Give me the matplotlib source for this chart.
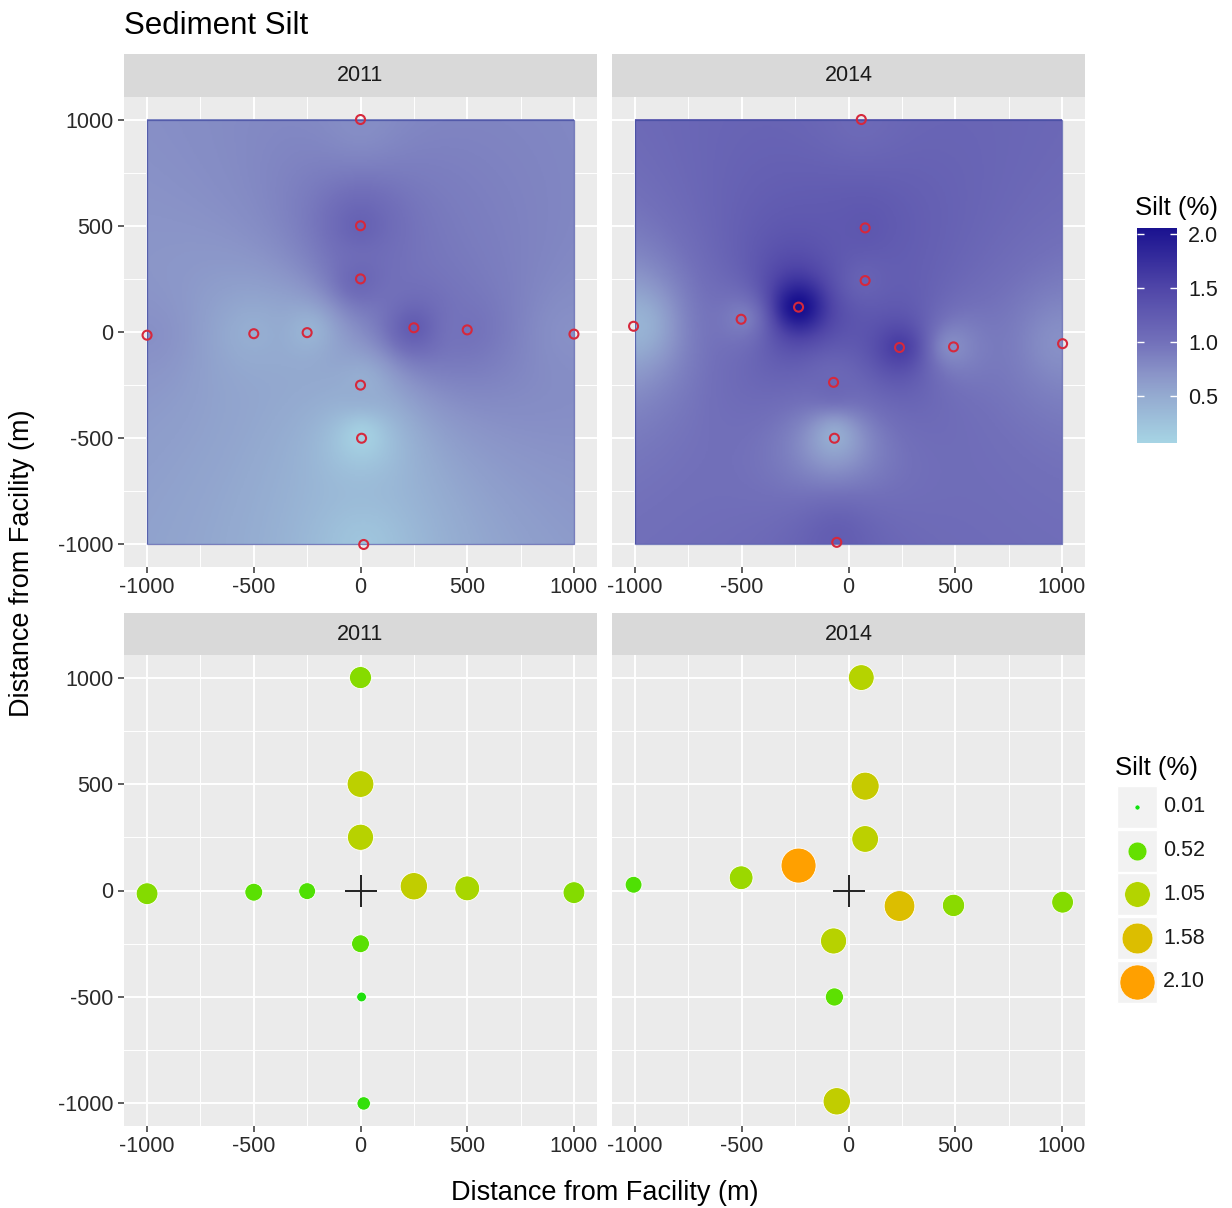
import numpy as np
import matplotlib
matplotlib.use('Agg')
import matplotlib.pyplot as plt
from matplotlib.colors import LinearSegmentedColormap, Normalize
from matplotlib.cm import ScalarMappable
from matplotlib.patches import Rectangle

plt.rcParams['font.family'] = ['Liberation Sans', 'DejaVu Sans']
plt.rcParams['axes.unicode_minus'] = False

# station data (m from facility, silt %)
years = ['2011', '2014']
x_2011 = [0, 0, 0, 250, 500, 1000, -1000, -500, -250, 0, 5, 15]
y_2011 = [1000, 500, 250, 20, 10, -10, -15, -8, -3, -250, -500, -1000]
silt_2011 = [0.75, 1.16, 1.10, 1.22, 0.98, 0.73, 0.73, 0.46, 0.40, 0.46, 0.10, 0.23]

x_2014 = [60, 78, 78, -234, -503, -1007, 239, 492, 1003, -70, -66, -55]
y_2014 = [1000, 490, 242, 117, 60, 27, -73, -70, -55, -237, -500, -990]
silt_2014 = [1.07, 1.29, 1.16, 2.10, 0.89, 0.40, 1.58, 0.77, 0.73, 1.10, 0.48, 1.22]

facility_x = [0]
facility_y = [0]

fill_limits = [0.065, 2.055]
fill_ticks = [0.5, 1.0, 1.5, 2.0]
size_breaks = [0.01, 0.52, 1.05, 1.58, 2.10]
axis_ticks = [-1000, -500, 0, 500, 1000]
minor_ticks = [-750, -250, 250, 750]

data = {
    '2011': (np.array(x_2011), np.array(y_2011), np.array(silt_2011)),
    '2014': (np.array(x_2014), np.array(y_2014), np.array(silt_2014)),
}

W, H = 1232, 1208
fig = plt.figure(figsize=(W / 100, H / 100), dpi=100)


def fx(px):
    return px / W


def fy(py):
    return 1 - py / H


fill_cmap = LinearSegmentedColormap.from_list(
    'silt_fill', [(0, '#a6d4e4'), (0.22, '#94aad0'), (0.32, '#8a94c8'),
                  (0.47, '#7270ba'), (0.72, '#5046a8'), (1, '#1a1290')])
fill_norm = Normalize(*fill_limits)

size_cmap = LinearSegmentedColormap.from_list(
    'silt_pts', [(0, '#10e010'), (0.25, '#66e000'), (0.5, '#b4d400'),
                 (0.75, '#dcbe00'), (1, '#ffa000')])
size_norm = Normalize(min(size_breaks), max(size_breaks))


def bubble_size(v):
    v = np.asarray(v, dtype=float)
    lo, hi = np.sqrt(min(size_breaks)), np.sqrt(max(size_breaks))
    d = 5.0 + 30.0 * (np.sqrt(v) - lo) / (hi - lo)  # diameter in px
    return (d * 0.72) ** 2


def idw(xs, ys, vs, gx, gy, p=2):
    d2 = (gx[..., None] - xs) ** 2 + (gy[..., None] - ys) ** 2
    w = 1.0 / np.maximum(d2, 1e-6) ** (p / 2)
    return (w * vs).sum(-1) / w.sum(-1)


def style(ax, left_col):
    ax.set_facecolor('#EBEBEB')
    for s in ax.spines.values():
        s.set_visible(False)
    ax.set_xticks(axis_ticks)
    ax.set_yticks(axis_ticks)
    ax.set_xticks(minor_ticks, minor=True)
    ax.set_yticks(minor_ticks, minor=True)
    ax.grid(which='major', color='white', lw=1.4)
    ax.grid(which='minor', color='white', lw=0.7)
    ax.set_axisbelow(True)
    ax.tick_params(which='major', length=4.5, width=1.1, color='#333333',
                   labelsize=15.5, labelcolor='#2a2a2a', pad=3)
    ax.tick_params(which='minor', length=0)
    if not left_col:
        ax.tick_params(axis='y', which='both', left=False, labelleft=False)
    ax.set_xlim(-1108, 1108)
    ax.set_ylim(-1106, 1106)


def strip(x0, y0, y1, label):
    sax = fig.add_axes([fx(x0), fy(y1), 473 / W, (y1 - y0) / H])
    sax.set_facecolor('#D9D9D9')
    sax.set_xticks([])
    sax.set_yticks([])
    for s in sax.spines.values():
        s.set_visible(False)
    sax.text(0.5, 0.5, label, ha='center', va='center', fontsize=15.5,
             color='#1A1A1A', transform=sax.transAxes)


panel_x = [124, 612]
gx, gy = np.meshgrid(np.linspace(-1000, 1000, 301), np.linspace(-1000, 1000, 301))

for col, yr in enumerate(years):
    xs, ys, vs = data[yr]

    # top row: interpolated surface
    ax = fig.add_axes([fx(panel_x[col]), fy(567), 473 / W, 470 / H])
    grid = idw(xs, ys, vs, gx, gy)
    ax.imshow(grid, extent=[-1000, 1000, -1000, 1000], origin='lower',
              cmap=fill_cmap, norm=fill_norm, interpolation='bilinear',
              aspect='auto', zorder=1)
    ax.add_patch(Rectangle((-1000, -1000), 2000, 2000, fill=False,
                           ec='#3f48a0', lw=0.9, alpha=0.7, zorder=2))
    ax.scatter(xs, ys, s=42, facecolors='none', edgecolors='#d6283c',
               linewidths=1.5, zorder=3)
    style(ax, col == 0)
    strip(panel_x[col], 54, 97, yr)

    # bottom row: bubbles
    ax = fig.add_axes([fx(panel_x[col]), fy(1126), 473 / W, 471 / H])
    ax.scatter(xs, ys, s=bubble_size(vs), c=vs, cmap=size_cmap, norm=size_norm,
               edgecolors='white', linewidths=0.6, zorder=3)
    ax.plot(facility_x, facility_y, marker='+', ms=23, mew=1.4,
            color='#222222', ls='none', zorder=4)
    style(ax, col == 0)
    strip(panel_x[col], 613, 655, yr)

# title and axis labels
fig.text(fx(124), fy(26), 'Sediment Silt', fontsize=22.5, va='center',
         ha='left', color='black')
fig.text(fx(605), fy(1193), 'Distance from Facility (m)', fontsize=19.5,
         ha='center', va='center')
fig.text(fx(22), fy(563), 'Distance from Facility (m)', fontsize=19.5,
         ha='center', va='center', rotation=90)

# colour bar legend
cax = fig.add_axes([fx(1137), fy(443), 40 / W, 215 / H])
cb = fig.colorbar(ScalarMappable(norm=fill_norm, cmap=fill_cmap), cax=cax,
                  ticks=fill_ticks)
cb.outline.set_visible(False)
cb.set_ticklabels([f'{t:.1f}' for t in fill_ticks])
cax.tick_params(left=True, right=True, labelleft=False, labelright=True,
                direction='in', color='white', width=1, length=5,
                labelsize=15.5, labelcolor='#1A1A1A', pad=8)
fig.text(fx(1135), fy(208), 'Silt (%)', fontsize=18.5, va='center')

# size legend
lax = fig.add_axes([fx(1110), fy(1010), 122 / W, 265 / H])
lax.set_xlim(1110, 1232)
lax.set_ylim(1010, 745)
lax.axis('off')
lax.text(1115, 768, 'Silt (%)', fontsize=18.5, va='center')
for i, b in enumerate(size_breaks):
    cy = 807 + i * 43.7
    lax.add_patch(Rectangle((1117, cy - 21), 40, 42, fc='#F2F2F2', ec='white', lw=1))
    lax.scatter([1137], [cy], s=bubble_size([b]), c=[b], cmap=size_cmap,
                norm=size_norm, edgecolors='white', linewidths=0.4, zorder=3,
                clip_on=False)
    lax.text(1163, cy, f'{b:.2f}', fontsize=15.5, va='center', color='#1A1A1A')

fig.savefig('out.png', dpi=100)
